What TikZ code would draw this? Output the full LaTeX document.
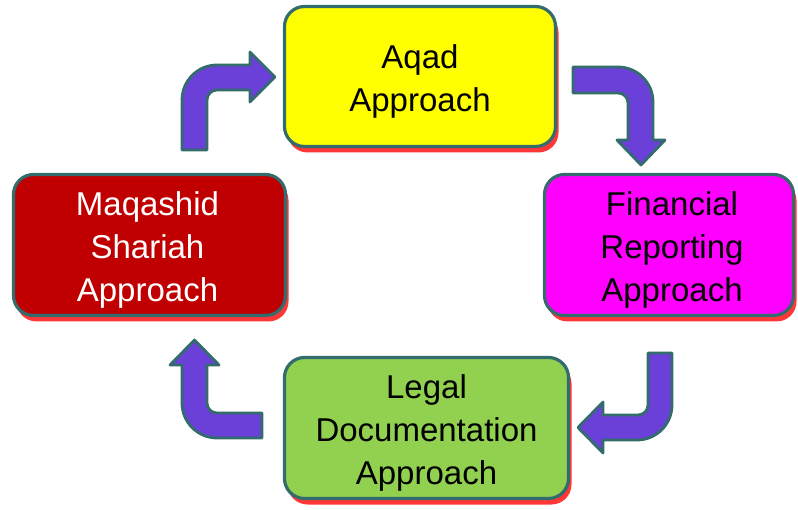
\documentclass[tikz,border=0pt]{standalone}
\usepackage{fontspec}
\setmainfont{Liberation Sans}
\usetikzlibrary{shadows}
\definecolor{bordc}{RGB}{50,108,108}
\definecolor{arrc}{RGB}{106,64,216}
\definecolor{yel}{RGB}{255,255,0}
\definecolor{mag}{RGB}{255,0,255}
\definecolor{dred}{RGB}{192,0,0}
\definecolor{grn}{RGB}{146,208,80}
\definecolor{shad}{RGB}{255,20,20}
\begin{document}
\begin{tikzpicture}[x=1pt,y=-1pt,
  boxst/.style={draw=bordc, line width=3.2pt, rounded corners=20pt, inner sep=0pt,
    drop shadow={shadow xshift=3pt, shadow yshift=-6pt, fill=shad, opacity=0.85}},
  txt/.style={align=center, font=\fontsize{33}{43}\selectfont, inner sep=0pt},
  barrow/.style={fill=arrc, draw=bordc, line width=2.8pt, line join=round}]
\useasboundingbox (0,0) rectangle (798,510);

\node[boxst, fill=yel, minimum width=271pt, minimum height=140pt] (aqad) at (420,76.5) {};
\node[boxst, fill=mag, minimum width=249pt, minimum height=141pt] (fin) at (669,245) {};
\node[boxst, fill=dred, minimum width=272pt, minimum height=141pt] (maq) at (149.5,245) {};
\node[boxst, fill=grn, minimum width=284pt, minimum height=141pt] (legal) at (426.5,428) {};

\node[txt] (aqadt) at ([yshift=-4.5pt]aqad.center) {Aqad\\Approach};
\node[txt] (fint) at ([yshift=-4.5pt,xshift=3pt]fin.center) {Financial\\Reporting\\Approach};
\node[txt, text=white] (maqt) at ([yshift=-4.5pt,xshift=-2pt]maq.center) {Maqashid\\Shariah\\Approach};
\node[txt] (legalt) at ([yshift=-5pt]legal.center) {Legal\\Documentation\\Approach};

% top-left arrow (Maqashid -> Aqad)
\draw[barrow] (182,150) -- (182,100) .. controls (182,80.7) and (197.7,65) .. (217,65)
  -- (250,65) -- (250,52) -- (275,77) -- (250,102) -- (250,90) -- (217,90)
  .. controls (211.5,90) and (207,94.5) .. (207,100) -- (207,150) -- cycle;
% top-right arrow (Aqad -> Financial)
\draw[barrow] (573,67) -- (618,67) .. controls (637.3,67) and (653,82.7) .. (653,102)
  -- (653,140) -- (665,140) -- (641,165) -- (617,140) -- (628,140) -- (628,103)
  .. controls (628,97.5) and (623.5,93) .. (618,93) -- (573,93) -- cycle;
% bottom-right arrow (Financial -> Legal)
\draw[barrow] (648,353) -- (672,353) -- (672,405) .. controls (672,424.3) and (656.3,440) .. (637,440)
  -- (603,440) -- (603,453) -- (578,427.5) -- (603,402) -- (603,415) -- (638,415)
  .. controls (643.5,415) and (648,410.5) .. (648,405) -- cycle;
% bottom-left arrow (Legal -> Maqashid)
\draw[barrow] (262,413) -- (262,438) -- (217,438) .. controls (197.7,438) and (182,422.3) .. (182,403)
  -- (182,365) -- (170,365) -- (194.5,340) -- (219,365) -- (207,365) -- (207,403)
  .. controls (207,408.5) and (211.5,413) .. (217,413) -- cycle;
\end{tikzpicture}
\end{document}
